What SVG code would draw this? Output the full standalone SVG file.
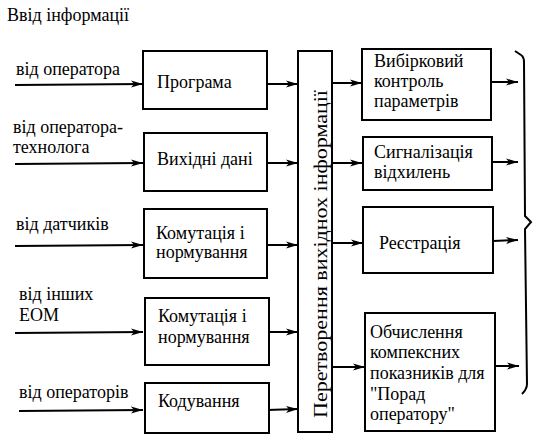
<svg xmlns="http://www.w3.org/2000/svg" width="537" height="443" viewBox="0 0 537 443" font-family="'Liberation Serif', 'DejaVu Serif', serif">
<defs>
<style>
text{font-family:'Liberation Serif','DejaVu Serif',serif;font-size:18px;fill:#000}
.box{fill:#fff;stroke:#000;stroke-width:2}
.ln{fill:none;stroke:#000;stroke-width:2}
</style>
<marker id="ah" markerWidth="12" markerHeight="8" refX="12" refY="4" orient="auto" markerUnits="userSpaceOnUse">
<path d="M0,0.5 L12,4 L0,7.5 L3,4 Z" fill="#000"/>
</marker>
</defs>
<rect width="537" height="443" fill="#fff"/>
<text x="7" y="21" font-size="17">Ввід інформації</text>
<g id="inputs">
<text x="16" y="75">від оператора</text>
<text x="13" y="133">від оператора-</text>
<text x="13" y="153">технолога</text>
<text x="16" y="230">від датчиків</text>
<text x="19" y="300">від інших</text>
<text x="19" y="321">ЕОМ</text>
<text x="19" y="398">від операторів</text>
</g>
<g id="connectors">
<line class="ln" x1="15" y1="85" x2="143" y2="84" marker-end="url(#ah)"/>
<line class="ln" x1="15" y1="164" x2="143" y2="163" marker-end="url(#ah)"/>
<line class="ln" x1="15" y1="246" x2="143" y2="245" marker-end="url(#ah)"/>
<line class="ln" x1="15" y1="333" x2="143" y2="332" marker-end="url(#ah)"/>
<line class="ln" x1="19" y1="411" x2="143" y2="410" marker-end="url(#ah)"/>
<line class="ln" x1="267" y1="84" x2="298" y2="84" marker-end="url(#ah)"/>
<line class="ln" x1="267" y1="163" x2="298" y2="163" marker-end="url(#ah)"/>
<line class="ln" x1="267" y1="245" x2="298" y2="245" marker-end="url(#ah)"/>
<line class="ln" x1="267" y1="332" x2="298" y2="332" marker-end="url(#ah)"/>
<line class="ln" x1="267" y1="410" x2="298" y2="409" marker-end="url(#ah)"/>
<line class="ln" x1="332" y1="83" x2="362" y2="83" marker-end="url(#ah)"/>
<line class="ln" x1="332" y1="163" x2="362" y2="163" marker-end="url(#ah)"/>
<line class="ln" x1="332" y1="243" x2="363" y2="243" marker-end="url(#ah)"/>
<line class="ln" x1="332" y1="367" x2="365" y2="367" marker-end="url(#ah)"/>
<line class="ln" x1="491" y1="82" x2="518" y2="82" marker-end="url(#ah)"/>
<line class="ln" x1="492" y1="162" x2="518" y2="162" marker-end="url(#ah)"/>
<line class="ln" x1="493" y1="241" x2="518" y2="240" marker-end="url(#ah)"/>
<line class="ln" x1="495" y1="366" x2="519" y2="366" marker-end="url(#ah)"/>
</g>
<g id="brace">
<path class="ln" d="M515,51 L521,55 Q524,57 524,62 L525,216 L531,222 L525,229 L527,384 Q527,389 522,394"/>
</g>
<g id="n-programa">
<rect class="box" x="143" y="51" width="124" height="58"/>
<text x="157" y="88">Програма</text>
</g>
<g id="n-vykhidni">
<rect class="box" x="144" y="133" width="123" height="58"/>
<text x="157" y="165">Вихідні дані</text>
</g>
<g id="n-komut1">
<rect class="box" x="144" y="209" width="123" height="69"/>
<text x="156" y="239">Комутація і</text>
<text x="156" y="258">нормування</text>
</g>
<g id="n-komut2">
<rect class="box" x="145" y="298" width="124" height="67"/>
<text x="158" y="322">Комутація і</text>
<text x="158" y="343">нормування</text>
</g>
<g id="n-koduv">
<rect class="box" x="145" y="383" width="124" height="50"/>
<text x="158" y="407">Кодування</text>
</g>
<g id="n-peretv">
<rect class="box" x="298" y="51" width="34" height="381"/>
<text transform="translate(327,418) rotate(-90)" textLength="328" lengthAdjust="spacingAndGlyphs">Перетворення вихіднох інформації</text>
</g>
<g id="n-vybirk">
<rect class="box" x="362" y="49" width="129" height="71"/>
<text x="374" y="67">Вибірковий</text>
<text x="374" y="87">контроль</text>
<text x="374" y="107">параметрів</text>
</g>
<g id="n-syhn">
<rect class="box" x="363" y="137" width="129" height="53"/>
<text x="374" y="158">Сигналізація</text>
<text x="374" y="178">відхилень</text>
</g>
<g id="n-reiestr">
<rect class="box" x="363" y="207" width="130" height="66"/>
<text x="379" y="249">Реєстрація</text>
</g>
<g id="n-obchysl">
<rect class="box" x="365" y="313" width="130" height="118"/>
<text x="370" y="338">Обчислення</text>
<text x="370" y="358">компексних</text>
<text x="370" y="379">показників для</text>
<text x="370" y="400">"Порад</text>
<text x="370" y="420">оператору"</text>
</g>
</svg>
